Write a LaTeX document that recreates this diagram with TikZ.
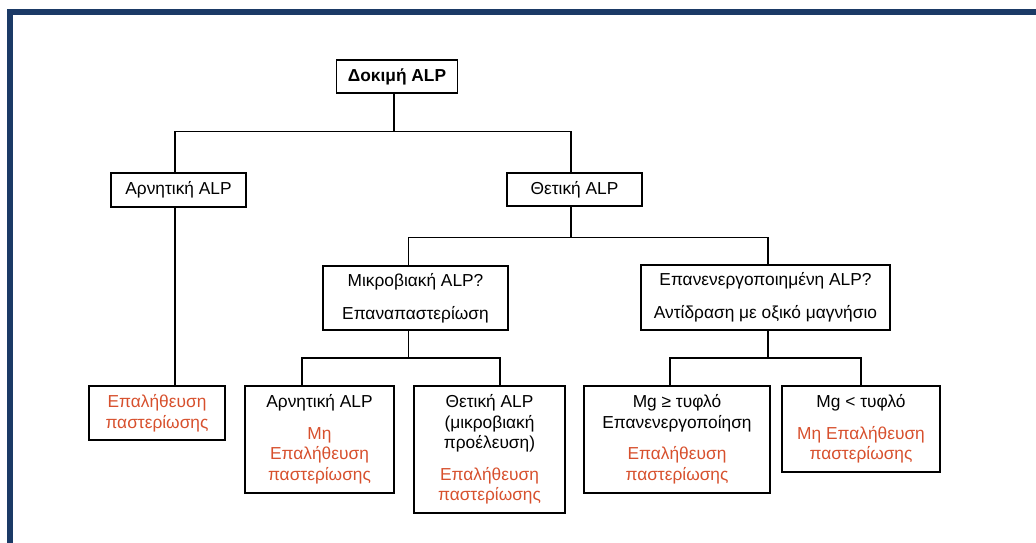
\documentclass[tikz,border=0pt]{standalone}
\usepackage{fontspec}
\setmainfont{Liberation Sans}
\usepackage{xcolor}
\usepackage{tikz}

\definecolor{framecol}{RGB}{27,58,102}
\definecolor{alpred}{RGB}{215,80,45}
\newcommand{\verif}[1]{\textcolor{alpred}{#1}}

\begin{document}
\begin{tikzpicture}[
    x=0.75pt, y=-0.75pt,
    link/.style={line width=1pt},
    headbox/.style={draw, line width=1pt, align=center, inner sep=0pt,
        font=\fontsize{13}{15.5}\selectfont},
    testbox/.style={headbox, line width=1.4pt},
    endbox/.style={headbox, line width=2pt},
]

    \def\gap{8pt}     % extra space between the question and the verdict

    \useasboundingbox (0,0) rectangle (1036,543);

    % frame, cut off at the right and at the bottom
    \fill[framecol] (7,9) rectangle (1036,15);
    \fill[framecol] (7,9) rectangle (13,543);

    % =============================================================
    % Upper levels: the ALP test and its two outcomes
    % =============================================================
    \node[headbox, minimum width=90.75pt, minimum height=24.75pt] (test)
        at (397,76.5) {\textbf{Δοκιμή ALP}};
    \node[headbox, minimum width=101.25pt, minimum height=25.5pt] (neg)
        at (178.5,190) {Αρνητική ALP};
    \node[headbox, minimum width=101.25pt, minimum height=24.75pt] (pos)
        at (574.5,189.5) {Θετική ALP};

    \node[testbox, minimum width=138.75pt, minimum height=48pt] (micro)
        at (415.5,298) {Μικροβιακή ALP?\\[9pt]Επαναπαστερίωση};
    \node[testbox, minimum width=186.75pt, minimum height=48.75pt] (react)
        at (765.5,297.5) {Επανενεργοποιημένη ALP?\\[9pt]Αντίδραση με οξικό μαγνήσιο};

    % =============================================================
    % Lowest level: the verdicts
    % =============================================================
    \node[endbox, minimum width=102pt, minimum height=40.5pt] (pastA)
        at (157,413) {\verif{Επαλήθευση}\\\verif{παστερίωσης}};
    \node[endbox, minimum width=111.75pt, minimum height=80.25pt] (negmicro)
        at (319.5,439.5)
        {Αρνητική ALP\\[\gap]\verif{Μη}\\\verif{Επαλήθευση}\\\verif{παστερίωσης}};
    \node[endbox, minimum width=113.25pt, minimum height=95.25pt] (posmicro)
        at (489.5,449.5)
        {Θετική ALP\\(μικροβιακή\\προέλευση)\\[\gap]\verif{Επαλήθευση}\\\verif{παστερίωσης}};
    \node[endbox, minimum width=139.5pt, minimum height=80.25pt] (mgge)
        at (677,439.5)
        {Mg ≥ τυφλό\\Επανενεργοποίηση\\[\gap]\verif{Επαλήθευση}\\\verif{παστερίωσης}};
    \node[endbox, minimum width=118.5pt, minimum height=64.5pt] (mglt)
        at (861,429)
        {Mg < τυφλό\\[\gap]\verif{Μη Επαλήθευση}\\\verif{παστερίωσης}};

    % connectors
    \draw[link] ([xshift=-2.25pt]test.south) -- ++(0,38) coordinate (jtest);
    \draw[link] ([xshift=-2.6pt]neg.north) |- (jtest) -| ([xshift=-2.6pt]pos.north);

    \draw[link] ([xshift=-2.6pt]neg.south) -- ([xshift=-2.6pt]neg.south |- pastA.north);

    \draw[link] ([xshift=-2.6pt]pos.south) -- ++(0,31) coordinate (jpos);
    \draw[link] ([xshift=-5.3pt]micro.north) |- (jpos) -| ([xshift=1.9pt]react.north);

    \draw[link] ([xshift=-5.3pt]micro.south) -- ++(0,27) coordinate (jmicro);
    \draw[link] ([xshift=-13.1pt]negmicro.north) |- (jmicro) -| ([xshift=7.9pt]posmicro.north);

    \draw[link] ([xshift=1.9pt]react.south) -- ++(0,27) coordinate (jreact);
    \draw[link] ([xshift=-5.25pt]mgge.north) |- (jreact) -| (mglt.north);

\end{tikzpicture}
\end{document}
